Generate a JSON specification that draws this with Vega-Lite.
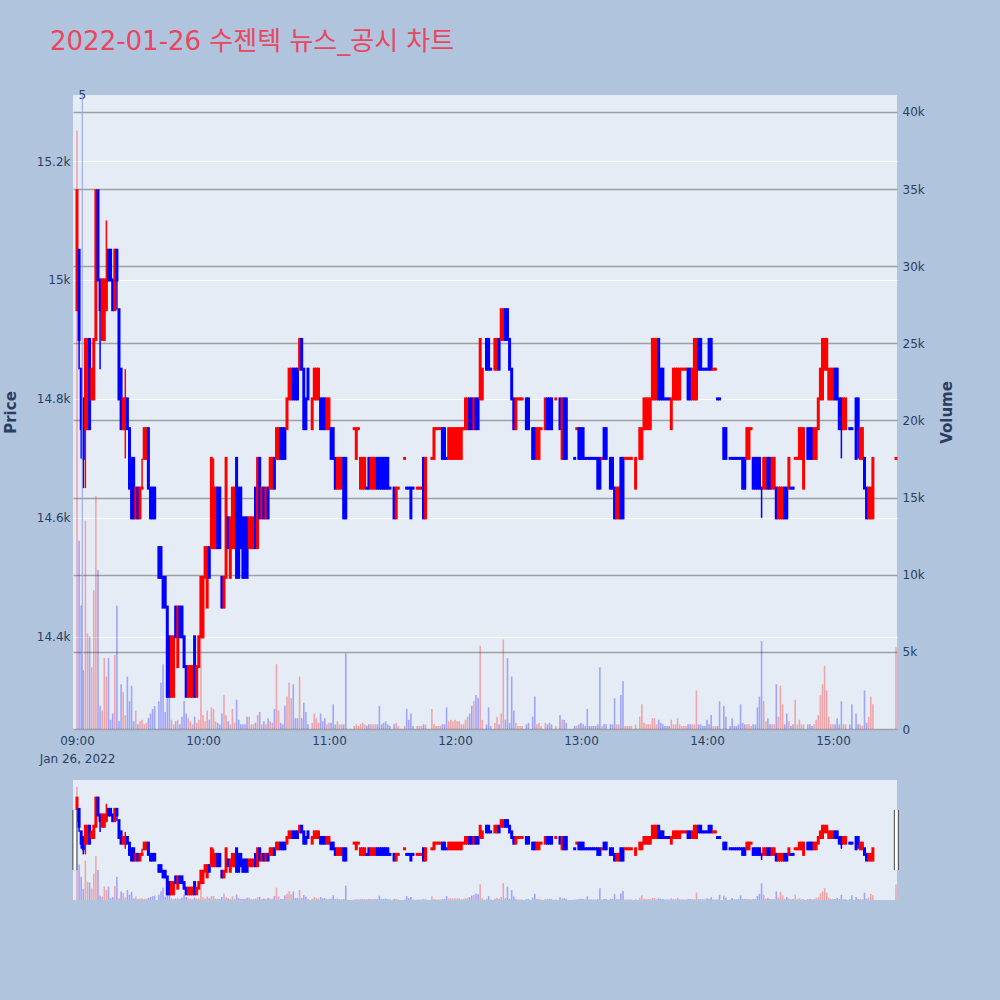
{
"$schema": "https://vega.github.io/schema/vega-lite/v6.json",
"width": 824, "height": 634,
"autosize": "none",
"padding": {"left": 73, "top": 95, "right": 103, "bottom": 271},
"background": "#B0C4DE",
"title": {"text": "2022-01-26 수젠텍 뉴스_공시 차트", "anchor": "start", "frame": "group", "dx": -23, "offset": 13, "baseline": "alphabetic", "fontSize": 26, "font": "DejaVu Sans, Noto Sans CJK KR", "fontWeight": "normal", "color": "#E8475F"},
"config": {"view": {"fill": "#E5ECF6", "stroke": null}, "axis": {"labelFont": "DejaVu Sans", "labelFontSize": 12, "labelColor": "#2a3f5f", "titleFont": "DejaVu Sans", "titleColor": "#2a3f5f", "domain": false, "ticks": false}},
"datasets": {"candles": [
{"t":"2022-01-26T09:00","o":14950,"h":15150,"l":14950,"c":15150,"d":"up","v":38800},
{"t":"2022-01-26T09:01","o":15050,"h":15050,"l":14850,"c":14900,"d":"dn","v":12200},
{"t":"2022-01-26T09:02","o":14850,"h":14850,"l":14700,"c":14750,"d":"dn","v":8000},
{"t":"2022-01-26T09:03","o":14800,"h":14800,"l":14650,"c":14700,"d":"dn","v":3800},
{"t":"2022-01-26T09:04","o":14750,"h":14900,"l":14650,"c":14900,"d":"up","v":13500},
{"t":"2022-01-26T09:05","o":14750,"h":14900,"l":14750,"c":14900,"d":"up","v":6200},
{"t":"2022-01-26T09:06","o":14900,"h":14900,"l":14750,"c":14750,"d":"dn","v":6000},
{"t":"2022-01-26T09:07","o":14800,"h":14850,"l":14800,"c":14850,"d":"up","v":4000},
{"t":"2022-01-26T09:08","o":14800,"h":14900,"l":14800,"c":14900,"d":"up","v":9000},
{"t":"2022-01-26T09:09","o":14900,"h":15150,"l":14900,"c":15150,"d":"up","v":15100},
{"t":"2022-01-26T09:10","o":15150,"h":15150,"l":15000,"c":15000,"d":"dn","v":10300},
{"t":"2022-01-26T09:11","o":15000,"h":15000,"l":14850,"c":14950,"d":"dn","v":1500},
{"t":"2022-01-26T09:12","o":14900,"h":15000,"l":14900,"c":15000,"d":"up","v":1200},
{"t":"2022-01-26T09:13","o":14900,"h":15000,"l":14900,"c":15000,"d":"up","v":4600},
{"t":"2022-01-26T09:14","o":14950,"h":15100,"l":14950,"c":15000,"d":"up","v":3400},
{"t":"2022-01-26T09:15","o":15050,"h":15050,"l":15000,"c":15000,"d":"dn","v":4600},
{"t":"2022-01-26T09:16","o":15050,"h":15050,"l":15000,"c":15000,"d":"dn","v":600},
{"t":"2022-01-26T09:17","o":15000,"h":15000,"l":14950,"c":14950,"d":"dn","v":1000},
{"t":"2022-01-26T09:18","o":14950,"h":15050,"l":14950,"c":15050,"d":"up","v":4800},
{"t":"2022-01-26T09:19","o":15050,"h":15050,"l":14950,"c":15000,"d":"dn","v":8000},
{"t":"2022-01-26T09:20","o":14950,"h":14950,"l":14800,"c":14800,"d":"dn","v":500},
{"t":"2022-01-26T09:21","o":14850,"h":14850,"l":14750,"c":14750,"d":"dn","v":2900},
{"t":"2022-01-26T09:22","o":14750,"h":14800,"l":14750,"c":14800,"d":"up","v":2400},
{"t":"2022-01-26T09:23","o":14750,"h":14850,"l":14700,"c":14800,"d":"up","v":900},
{"t":"2022-01-26T09:24","o":14800,"h":14800,"l":14750,"c":14750,"d":"dn","v":3400},
{"t":"2022-01-26T09:25","o":14750,"h":14750,"l":14650,"c":14650,"d":"dn","v":1800},
{"t":"2022-01-26T09:26","o":14700,"h":14700,"l":14600,"c":14600,"d":"dn","v":2800},
{"t":"2022-01-26T09:27","o":14700,"h":14700,"l":14600,"c":14600,"d":"dn","v":500},
{"t":"2022-01-26T09:28","o":14600,"h":14650,"l":14600,"c":14650,"d":"up","v":1200},
{"t":"2022-01-26T09:29","o":14650,"h":14650,"l":14600,"c":14600,"d":"dn","v":300},
{"t":"2022-01-26T09:30","o":14600,"h":14650,"l":14600,"c":14650,"d":"up","v":500},
{"t":"2022-01-26T09:31","o":14650,"h":14700,"l":14650,"c":14650,"d":"up","v":600},
{"t":"2022-01-26T09:32","o":14700,"h":14750,"l":14700,"c":14750,"d":"up","v":300},
{"t":"2022-01-26T09:33","o":14700,"h":14750,"l":14700,"c":14750,"d":"up","v":400},
{"t":"2022-01-26T09:34","o":14750,"h":14750,"l":14650,"c":14650,"d":"dn","v":700},
{"t":"2022-01-26T09:35","o":14650,"h":14650,"l":14600,"c":14600,"d":"dn","v":1000},
{"t":"2022-01-26T09:36","o":14650,"h":14650,"l":14600,"c":14600,"d":"dn","v":1300},
{"t":"2022-01-26T09:37","o":14650,"h":14650,"l":14600,"c":14600,"d":"dn","v":1500},
{"t":"2022-01-26T09:39","o":14550,"h":14550,"l":14500,"c":14500,"d":"dn","v":1800},
{"t":"2022-01-26T09:40","o":14550,"h":14550,"l":14500,"c":14500,"d":"dn","v":3000},
{"t":"2022-01-26T09:41","o":14500,"h":14500,"l":14450,"c":14450,"d":"dn","v":4200},
{"t":"2022-01-26T09:42","o":14500,"h":14500,"l":14450,"c":14450,"d":"dn","v":1100},
{"t":"2022-01-26T09:43","o":14450,"h":14450,"l":14300,"c":14300,"d":"dn","v":2600},
{"t":"2022-01-26T09:44","o":14400,"h":14400,"l":14300,"c":14300,"d":"dn","v":4000},
{"t":"2022-01-26T09:45","o":14300,"h":14400,"l":14300,"c":14400,"d":"up","v":600},
{"t":"2022-01-26T09:46","o":14300,"h":14400,"l":14300,"c":14400,"d":"up","v":300},
{"t":"2022-01-26T09:47","o":14450,"h":14450,"l":14400,"c":14400,"d":"dn","v":500},
{"t":"2022-01-26T09:48","o":14350,"h":14450,"l":14350,"c":14450,"d":"up","v":600},
{"t":"2022-01-26T09:49","o":14450,"h":14450,"l":14400,"c":14400,"d":"dn","v":300},
{"t":"2022-01-26T09:50","o":14450,"h":14450,"l":14400,"c":14400,"d":"dn","v":800},
{"t":"2022-01-26T09:51","o":14400,"h":14400,"l":14350,"c":14350,"d":"dn","v":1800},
{"t":"2022-01-26T09:52","o":14350,"h":14350,"l":14300,"c":14300,"d":"dn","v":1000},
{"t":"2022-01-26T09:53","o":14300,"h":14350,"l":14300,"c":14350,"d":"up","v":700},
{"t":"2022-01-26T09:54","o":14300,"h":14350,"l":14300,"c":14350,"d":"up","v":500},
{"t":"2022-01-26T09:55","o":14300,"h":14350,"l":14300,"c":14350,"d":"up","v":300},
{"t":"2022-01-26T09:56","o":14400,"h":14400,"l":14300,"c":14300,"d":"dn","v":800},
{"t":"2022-01-26T09:57","o":14300,"h":14350,"l":14300,"c":14350,"d":"up","v":400},
{"t":"2022-01-26T09:58","o":14350,"h":14400,"l":14350,"c":14400,"d":"up","v":600},
{"t":"2022-01-26T09:59","o":14400,"h":14500,"l":14400,"c":14500,"d":"up","v":9700},
{"t":"2022-01-26T10:00","o":14400,"h":14500,"l":14400,"c":14500,"d":"up","v":900},
{"t":"2022-01-26T10:01","o":14500,"h":14550,"l":14500,"c":14550,"d":"up","v":500},
{"t":"2022-01-26T10:02","o":14450,"h":14550,"l":14450,"c":14550,"d":"up","v":1200},
{"t":"2022-01-26T10:03","o":14550,"h":14550,"l":14500,"c":14500,"d":"dn","v":600},
{"t":"2022-01-26T10:04","o":14550,"h":14700,"l":14550,"c":14700,"d":"up","v":1400},
{"t":"2022-01-26T10:05","o":14550,"h":14700,"l":14550,"c":14650,"d":"up","v":1300},
{"t":"2022-01-26T10:06","o":14550,"h":14650,"l":14550,"c":14650,"d":"up","v":500},
{"t":"2022-01-26T10:07","o":14650,"h":14650,"l":14550,"c":14550,"d":"dn","v":400},
{"t":"2022-01-26T10:08","o":14650,"h":14650,"l":14550,"c":14550,"d":"dn","v":300},
{"t":"2022-01-26T10:09","o":14500,"h":14500,"l":14450,"c":14450,"d":"dn","v":1000},
{"t":"2022-01-26T10:10","o":14450,"h":14500,"l":14450,"c":14500,"d":"up","v":2200},
{"t":"2022-01-26T10:11","o":14500,"h":14700,"l":14500,"c":14700,"d":"up","v":900},
{"t":"2022-01-26T10:12","o":14600,"h":14600,"l":14550,"c":14550,"d":"dn","v":500},
{"t":"2022-01-26T10:13","o":14500,"h":14600,"l":14500,"c":14600,"d":"up","v":300},
{"t":"2022-01-26T10:14","o":14550,"h":14650,"l":14550,"c":14650,"d":"up","v":1300},
{"t":"2022-01-26T10:15","o":14550,"h":14650,"l":14550,"c":14650,"d":"up","v":400},
{"t":"2022-01-26T10:16","o":14700,"h":14700,"l":14500,"c":14500,"d":"dn","v":1900},
{"t":"2022-01-26T10:17","o":14650,"h":14650,"l":14500,"c":14500,"d":"dn","v":600},
{"t":"2022-01-26T10:18","o":14650,"h":14650,"l":14550,"c":14550,"d":"dn","v":300},
{"t":"2022-01-26T10:19","o":14600,"h":14600,"l":14500,"c":14500,"d":"dn","v":300},
{"t":"2022-01-26T10:20","o":14600,"h":14600,"l":14500,"c":14500,"d":"dn","v":300},
{"t":"2022-01-26T10:21","o":14600,"h":14600,"l":14500,"c":14500,"d":"dn","v":800},
{"t":"2022-01-26T10:22","o":14550,"h":14600,"l":14550,"c":14600,"d":"up","v":800},
{"t":"2022-01-26T10:23","o":14550,"h":14600,"l":14550,"c":14600,"d":"up","v":300},
{"t":"2022-01-26T10:24","o":14550,"h":14600,"l":14550,"c":14600,"d":"up","v":300},
{"t":"2022-01-26T10:25","o":14650,"h":14650,"l":14550,"c":14550,"d":"dn","v":400},
{"t":"2022-01-26T10:26","o":14550,"h":14700,"l":14550,"c":14700,"d":"up","v":900},
{"t":"2022-01-26T10:27","o":14700,"h":14700,"l":14600,"c":14600,"d":"dn","v":1100},
{"t":"2022-01-26T10:28","o":14600,"h":14650,"l":14600,"c":14650,"d":"up","v":300},
{"t":"2022-01-26T10:29","o":14650,"h":14650,"l":14600,"c":14600,"d":"dn","v":500},
{"t":"2022-01-26T10:30","o":14600,"h":14650,"l":14600,"c":14650,"d":"up","v":300},
{"t":"2022-01-26T10:31","o":14650,"h":14650,"l":14600,"c":14600,"d":"dn","v":700},
{"t":"2022-01-26T10:32","o":14650,"h":14700,"l":14650,"c":14700,"d":"up","v":500},
{"t":"2022-01-26T10:33","o":14650,"h":14700,"l":14650,"c":14700,"d":"up","v":400},
{"t":"2022-01-26T10:34","o":14700,"h":14700,"l":14650,"c":14650,"d":"dn","v":1300},
{"t":"2022-01-26T10:35","o":14700,"h":14750,"l":14700,"c":14750,"d":"up","v":4200},
{"t":"2022-01-26T10:36","o":14700,"h":14750,"l":14700,"c":14750,"d":"up","v":1200},
{"t":"2022-01-26T10:37","o":14750,"h":14750,"l":14700,"c":14700,"d":"dn","v":400},
{"t":"2022-01-26T10:38","o":14750,"h":14750,"l":14700,"c":14700,"d":"dn","v":300},
{"t":"2022-01-26T10:39","o":14750,"h":14750,"l":14700,"c":14700,"d":"dn","v":1500},
{"t":"2022-01-26T10:40","o":14750,"h":14800,"l":14750,"c":14800,"d":"up","v":2100},
{"t":"2022-01-26T10:41","o":14800,"h":14850,"l":14800,"c":14850,"d":"up","v":3000},
{"t":"2022-01-26T10:42","o":14800,"h":14850,"l":14800,"c":14850,"d":"up","v":2000},
{"t":"2022-01-26T10:43","o":14850,"h":14850,"l":14800,"c":14800,"d":"dn","v":2900},
{"t":"2022-01-26T10:44","o":14850,"h":14850,"l":14800,"c":14800,"d":"dn","v":700},
{"t":"2022-01-26T10:45","o":14850,"h":14850,"l":14800,"c":14800,"d":"dn","v":700},
{"t":"2022-01-26T10:46","o":14850,"h":14900,"l":14850,"c":14900,"d":"up","v":3400},
{"t":"2022-01-26T10:47","o":14900,"h":14900,"l":14850,"c":14850,"d":"dn","v":700},
{"t":"2022-01-26T10:48","o":14850,"h":14850,"l":14750,"c":14750,"d":"dn","v":1700},
{"t":"2022-01-26T10:49","o":14800,"h":14800,"l":14750,"c":14750,"d":"dn","v":1100},
{"t":"2022-01-26T10:50","o":14850,"h":14850,"l":14800,"c":14800,"d":"dn","v":300},
{"t":"2022-01-26T10:52","o":14750,"h":14800,"l":14750,"c":14800,"d":"up","v":400},
{"t":"2022-01-26T10:53","o":14800,"h":14850,"l":14800,"c":14850,"d":"up","v":1000},
{"t":"2022-01-26T10:54","o":14800,"h":14850,"l":14800,"c":14850,"d":"up","v":700},
{"t":"2022-01-26T10:55","o":14800,"h":14850,"l":14800,"c":14850,"d":"up","v":400},
{"t":"2022-01-26T10:56","o":14800,"h":14800,"l":14750,"c":14750,"d":"dn","v":1000},
{"t":"2022-01-26T10:57","o":14800,"h":14800,"l":14750,"c":14750,"d":"dn","v":500},
{"t":"2022-01-26T10:58","o":14800,"h":14800,"l":14750,"c":14750,"d":"dn","v":700},
{"t":"2022-01-26T10:59","o":14750,"h":14800,"l":14750,"c":14800,"d":"up","v":300},
{"t":"2022-01-26T11:00","o":14750,"h":14800,"l":14750,"c":14800,"d":"up","v":400},
{"t":"2022-01-26T11:01","o":14750,"h":14750,"l":14700,"c":14700,"d":"dn","v":400},
{"t":"2022-01-26T11:02","o":14750,"h":14750,"l":14700,"c":14700,"d":"dn","v":1600},
{"t":"2022-01-26T11:03","o":14700,"h":14700,"l":14650,"c":14650,"d":"dn","v":300},
{"t":"2022-01-26T11:04","o":14650,"h":14700,"l":14650,"c":14700,"d":"up","v":500},
{"t":"2022-01-26T11:05","o":14650,"h":14700,"l":14650,"c":14700,"d":"up","v":300},
{"t":"2022-01-26T11:06","o":14650,"h":14700,"l":14650,"c":14700,"d":"up","v":300},
{"t":"2022-01-26T11:07","o":14700,"h":14700,"l":14600,"c":14600,"d":"dn","v":300},
{"t":"2022-01-26T11:08","o":14700,"h":14700,"l":14600,"c":14600,"d":"dn","v":4900},
{"t":"2022-01-26T11:12","o":14750,"h":14750,"l":14750,"c":14750,"d":"up","v":200},
{"t":"2022-01-26T11:13","o":14700,"h":14750,"l":14700,"c":14750,"d":"up","v":300},
{"t":"2022-01-26T11:14","o":14750,"h":14750,"l":14750,"c":14750,"d":"up","v":200},
{"t":"2022-01-26T11:15","o":14650,"h":14700,"l":14650,"c":14700,"d":"up","v":300},
{"t":"2022-01-26T11:16","o":14650,"h":14700,"l":14650,"c":14700,"d":"up","v":400},
{"t":"2022-01-26T11:17","o":14650,"h":14700,"l":14650,"c":14700,"d":"up","v":300},
{"t":"2022-01-26T11:18","o":14650,"h":14650,"l":14650,"c":14650,"d":"dn","v":200},
{"t":"2022-01-26T11:19","o":14700,"h":14700,"l":14650,"c":14650,"d":"dn","v":300},
{"t":"2022-01-26T11:20","o":14650,"h":14700,"l":14650,"c":14700,"d":"up","v":300},
{"t":"2022-01-26T11:21","o":14650,"h":14700,"l":14650,"c":14700,"d":"up","v":300},
{"t":"2022-01-26T11:22","o":14650,"h":14700,"l":14650,"c":14700,"d":"up","v":300},
{"t":"2022-01-26T11:23","o":14700,"h":14700,"l":14650,"c":14650,"d":"dn","v":300},
{"t":"2022-01-26T11:24","o":14700,"h":14700,"l":14650,"c":14650,"d":"dn","v":1500},
{"t":"2022-01-26T11:25","o":14700,"h":14700,"l":14650,"c":14650,"d":"dn","v":300},
{"t":"2022-01-26T11:26","o":14700,"h":14700,"l":14650,"c":14650,"d":"dn","v":400},
{"t":"2022-01-26T11:27","o":14700,"h":14700,"l":14650,"c":14650,"d":"dn","v":500},
{"t":"2022-01-26T11:28","o":14700,"h":14700,"l":14650,"c":14650,"d":"dn","v":300},
{"t":"2022-01-26T11:29","o":14650,"h":14650,"l":14650,"c":14650,"d":"dn","v":200},
{"t":"2022-01-26T11:31","o":14650,"h":14650,"l":14600,"c":14600,"d":"dn","v":300},
{"t":"2022-01-26T11:32","o":14600,"h":14650,"l":14600,"c":14650,"d":"up","v":400},
{"t":"2022-01-26T11:33","o":14650,"h":14650,"l":14650,"c":14650,"d":"up","v":200},
{"t":"2022-01-26T11:36","o":14700,"h":14700,"l":14700,"c":14700,"d":"up","v":200},
{"t":"2022-01-26T11:37","o":14650,"h":14650,"l":14650,"c":14650,"d":"dn","v":1300},
{"t":"2022-01-26T11:38","o":14650,"h":14650,"l":14650,"c":14650,"d":"dn","v":600},
{"t":"2022-01-26T11:39","o":14650,"h":14650,"l":14600,"c":14600,"d":"dn","v":1000},
{"t":"2022-01-26T11:40","o":14650,"h":14650,"l":14650,"c":14650,"d":"dn","v":200},
{"t":"2022-01-26T11:42","o":14650,"h":14650,"l":14650,"c":14650,"d":"up","v":200},
{"t":"2022-01-26T11:43","o":14650,"h":14650,"l":14650,"c":14650,"d":"up","v":200},
{"t":"2022-01-26T11:44","o":14650,"h":14650,"l":14650,"c":14650,"d":"up","v":200},
{"t":"2022-01-26T11:45","o":14700,"h":14700,"l":14600,"c":14600,"d":"dn","v":300},
{"t":"2022-01-26T11:46","o":14600,"h":14700,"l":14600,"c":14700,"d":"up","v":300},
{"t":"2022-01-26T11:49","o":14700,"h":14700,"l":14700,"c":14700,"d":"up","v":1300},
{"t":"2022-01-26T11:50","o":14700,"h":14750,"l":14700,"c":14750,"d":"up","v":300},
{"t":"2022-01-26T11:51","o":14750,"h":14750,"l":14750,"c":14750,"d":"up","v":200},
{"t":"2022-01-26T11:52","o":14750,"h":14750,"l":14750,"c":14750,"d":"up","v":200},
{"t":"2022-01-26T11:53","o":14750,"h":14750,"l":14750,"c":14750,"d":"up","v":200},
{"t":"2022-01-26T11:54","o":14750,"h":14750,"l":14700,"c":14700,"d":"dn","v":300},
{"t":"2022-01-26T11:55","o":14750,"h":14750,"l":14700,"c":14700,"d":"dn","v":300},
{"t":"2022-01-26T11:56","o":14700,"h":14700,"l":14700,"c":14700,"d":"dn","v":1400},
{"t":"2022-01-26T11:57","o":14700,"h":14750,"l":14700,"c":14750,"d":"up","v":500},
{"t":"2022-01-26T11:58","o":14700,"h":14750,"l":14700,"c":14750,"d":"up","v":600},
{"t":"2022-01-26T11:59","o":14700,"h":14750,"l":14700,"c":14750,"d":"up","v":500},
{"t":"2022-01-26T12:00","o":14700,"h":14750,"l":14700,"c":14750,"d":"up","v":600},
{"t":"2022-01-26T12:01","o":14700,"h":14750,"l":14700,"c":14750,"d":"up","v":500},
{"t":"2022-01-26T12:02","o":14700,"h":14750,"l":14700,"c":14750,"d":"up","v":500},
{"t":"2022-01-26T12:03","o":14700,"h":14750,"l":14700,"c":14750,"d":"up","v":300},
{"t":"2022-01-26T12:04","o":14750,"h":14750,"l":14750,"c":14750,"d":"up","v":300},
{"t":"2022-01-26T12:05","o":14750,"h":14800,"l":14750,"c":14800,"d":"up","v":600},
{"t":"2022-01-26T12:06","o":14750,"h":14800,"l":14750,"c":14800,"d":"up","v":800},
{"t":"2022-01-26T12:07","o":14800,"h":14800,"l":14750,"c":14750,"d":"dn","v":1000},
{"t":"2022-01-26T12:08","o":14800,"h":14800,"l":14750,"c":14750,"d":"dn","v":1500},
{"t":"2022-01-26T12:09","o":14750,"h":14800,"l":14750,"c":14800,"d":"up","v":1800},
{"t":"2022-01-26T12:10","o":14800,"h":14800,"l":14750,"c":14750,"d":"dn","v":2200},
{"t":"2022-01-26T12:11","o":14800,"h":14800,"l":14750,"c":14750,"d":"dn","v":2000},
{"t":"2022-01-26T12:12","o":14800,"h":14900,"l":14800,"c":14900,"d":"up","v":5400},
{"t":"2022-01-26T12:13","o":14800,"h":14850,"l":14800,"c":14850,"d":"up","v":600},
{"t":"2022-01-26T12:15","o":14900,"h":14900,"l":14850,"c":14850,"d":"dn","v":300},
{"t":"2022-01-26T12:16","o":14900,"h":14900,"l":14850,"c":14850,"d":"dn","v":1400},
{"t":"2022-01-26T12:17","o":14850,"h":14850,"l":14850,"c":14850,"d":"dn","v":200},
{"t":"2022-01-26T12:19","o":14850,"h":14900,"l":14850,"c":14900,"d":"up","v":400},
{"t":"2022-01-26T12:20","o":14850,"h":14900,"l":14850,"c":14900,"d":"up","v":800},
{"t":"2022-01-26T12:21","o":14900,"h":14900,"l":14850,"c":14850,"d":"dn","v":300},
{"t":"2022-01-26T12:22","o":14900,"h":14950,"l":14900,"c":14950,"d":"up","v":1000},
{"t":"2022-01-26T12:23","o":14900,"h":14950,"l":14900,"c":14950,"d":"up","v":5800},
{"t":"2022-01-26T12:24","o":14950,"h":14950,"l":14900,"c":14900,"d":"dn","v":600},
{"t":"2022-01-26T12:25","o":14950,"h":14950,"l":14900,"c":14900,"d":"dn","v":4600},
{"t":"2022-01-26T12:26","o":14900,"h":14900,"l":14850,"c":14850,"d":"dn","v":400},
{"t":"2022-01-26T12:27","o":14850,"h":14850,"l":14800,"c":14800,"d":"dn","v":3400},
{"t":"2022-01-26T12:28","o":14800,"h":14800,"l":14750,"c":14750,"d":"dn","v":1200},
{"t":"2022-01-26T12:29","o":14750,"h":14800,"l":14750,"c":14800,"d":"up","v":400},
{"t":"2022-01-26T12:30","o":14800,"h":14800,"l":14800,"c":14800,"d":"up","v":200},
{"t":"2022-01-26T12:31","o":14800,"h":14800,"l":14800,"c":14800,"d":"up","v":200},
{"t":"2022-01-26T12:32","o":14800,"h":14800,"l":14800,"c":14800,"d":"up","v":200},
{"t":"2022-01-26T12:34","o":14800,"h":14800,"l":14750,"c":14750,"d":"dn","v":300},
{"t":"2022-01-26T12:35","o":14800,"h":14800,"l":14750,"c":14750,"d":"dn","v":400},
{"t":"2022-01-26T12:37","o":14750,"h":14750,"l":14700,"c":14700,"d":"dn","v":800},
{"t":"2022-01-26T12:38","o":14750,"h":14750,"l":14700,"c":14700,"d":"dn","v":2100},
{"t":"2022-01-26T12:39","o":14700,"h":14750,"l":14700,"c":14750,"d":"up","v":300},
{"t":"2022-01-26T12:40","o":14700,"h":14750,"l":14700,"c":14750,"d":"up","v":400},
{"t":"2022-01-26T12:41","o":14750,"h":14750,"l":14750,"c":14750,"d":"up","v":200},
{"t":"2022-01-26T12:43","o":14750,"h":14800,"l":14750,"c":14800,"d":"up","v":400},
{"t":"2022-01-26T12:44","o":14800,"h":14800,"l":14750,"c":14750,"d":"dn","v":300},
{"t":"2022-01-26T12:45","o":14800,"h":14800,"l":14750,"c":14750,"d":"dn","v":400},
{"t":"2022-01-26T12:46","o":14800,"h":14800,"l":14750,"c":14750,"d":"dn","v":300},
{"t":"2022-01-26T12:48","o":14800,"h":14800,"l":14800,"c":14800,"d":"up","v":200},
{"t":"2022-01-26T12:50","o":14800,"h":14800,"l":14750,"c":14750,"d":"dn","v":900},
{"t":"2022-01-26T12:51","o":14700,"h":14800,"l":14700,"c":14800,"d":"up","v":600},
{"t":"2022-01-26T12:52","o":14800,"h":14800,"l":14700,"c":14700,"d":"dn","v":600},
{"t":"2022-01-26T12:53","o":14800,"h":14800,"l":14700,"c":14700,"d":"dn","v":400},
{"t":"2022-01-26T12:57","o":14700,"h":14700,"l":14700,"c":14700,"d":"dn","v":200},
{"t":"2022-01-26T12:58","o":14750,"h":14750,"l":14750,"c":14750,"d":"up","v":200},
{"t":"2022-01-26T12:59","o":14750,"h":14750,"l":14700,"c":14700,"d":"dn","v":300},
{"t":"2022-01-26T13:00","o":14750,"h":14750,"l":14700,"c":14700,"d":"dn","v":400},
{"t":"2022-01-26T13:01","o":14750,"h":14750,"l":14700,"c":14700,"d":"dn","v":300},
{"t":"2022-01-26T13:02","o":14700,"h":14700,"l":14700,"c":14700,"d":"dn","v":200},
{"t":"2022-01-26T13:03","o":14700,"h":14700,"l":14700,"c":14700,"d":"dn","v":1300},
{"t":"2022-01-26T13:04","o":14700,"h":14700,"l":14700,"c":14700,"d":"dn","v":200},
{"t":"2022-01-26T13:05","o":14700,"h":14700,"l":14700,"c":14700,"d":"dn","v":200},
{"t":"2022-01-26T13:06","o":14700,"h":14700,"l":14700,"c":14700,"d":"dn","v":200},
{"t":"2022-01-26T13:07","o":14700,"h":14700,"l":14700,"c":14700,"d":"dn","v":200},
{"t":"2022-01-26T13:08","o":14700,"h":14700,"l":14650,"c":14650,"d":"dn","v":300},
{"t":"2022-01-26T13:09","o":14700,"h":14700,"l":14650,"c":14650,"d":"dn","v":4000},
{"t":"2022-01-26T13:10","o":14700,"h":14700,"l":14700,"c":14700,"d":"up","v":200},
{"t":"2022-01-26T13:11","o":14750,"h":14750,"l":14700,"c":14700,"d":"dn","v":300},
{"t":"2022-01-26T13:12","o":14750,"h":14750,"l":14700,"c":14700,"d":"dn","v":300},
{"t":"2022-01-26T13:14","o":14700,"h":14700,"l":14650,"c":14650,"d":"dn","v":300},
{"t":"2022-01-26T13:15","o":14700,"h":14700,"l":14650,"c":14650,"d":"dn","v":300},
{"t":"2022-01-26T13:16","o":14650,"h":14650,"l":14600,"c":14600,"d":"dn","v":2000},
{"t":"2022-01-26T13:17","o":14600,"h":14650,"l":14600,"c":14650,"d":"up","v":300},
{"t":"2022-01-26T13:18","o":14600,"h":14650,"l":14600,"c":14650,"d":"up","v":300},
{"t":"2022-01-26T13:19","o":14700,"h":14700,"l":14600,"c":14600,"d":"dn","v":2200},
{"t":"2022-01-26T13:20","o":14700,"h":14700,"l":14600,"c":14600,"d":"dn","v":3100},
{"t":"2022-01-26T13:21","o":14700,"h":14700,"l":14700,"c":14700,"d":"up","v":200},
{"t":"2022-01-26T13:22","o":14700,"h":14700,"l":14700,"c":14700,"d":"up","v":200},
{"t":"2022-01-26T13:23","o":14700,"h":14700,"l":14700,"c":14700,"d":"up","v":200},
{"t":"2022-01-26T13:24","o":14700,"h":14700,"l":14700,"c":14700,"d":"up","v":200},
{"t":"2022-01-26T13:26","o":14650,"h":14700,"l":14650,"c":14700,"d":"up","v":300},
{"t":"2022-01-26T13:28","o":14700,"h":14750,"l":14700,"c":14750,"d":"up","v":800},
{"t":"2022-01-26T13:29","o":14700,"h":14750,"l":14700,"c":14750,"d":"up","v":1600},
{"t":"2022-01-26T13:30","o":14750,"h":14800,"l":14750,"c":14800,"d":"up","v":400},
{"t":"2022-01-26T13:31","o":14750,"h":14800,"l":14750,"c":14800,"d":"up","v":300},
{"t":"2022-01-26T13:32","o":14750,"h":14800,"l":14750,"c":14800,"d":"up","v":300},
{"t":"2022-01-26T13:33","o":14750,"h":14800,"l":14750,"c":14800,"d":"up","v":300},
{"t":"2022-01-26T13:34","o":14800,"h":14900,"l":14800,"c":14900,"d":"up","v":700},
{"t":"2022-01-26T13:35","o":14800,"h":14900,"l":14800,"c":14900,"d":"up","v":700},
{"t":"2022-01-26T13:36","o":14800,"h":14900,"l":14800,"c":14900,"d":"up","v":300},
{"t":"2022-01-26T13:37","o":14900,"h":14900,"l":14800,"c":14800,"d":"dn","v":600},
{"t":"2022-01-26T13:38","o":14850,"h":14850,"l":14800,"c":14800,"d":"dn","v":400},
{"t":"2022-01-26T13:39","o":14850,"h":14850,"l":14800,"c":14800,"d":"dn","v":300},
{"t":"2022-01-26T13:40","o":14800,"h":14800,"l":14800,"c":14800,"d":"dn","v":200},
{"t":"2022-01-26T13:41","o":14800,"h":14800,"l":14800,"c":14800,"d":"dn","v":200},
{"t":"2022-01-26T13:42","o":14800,"h":14800,"l":14800,"c":14800,"d":"dn","v":200},
{"t":"2022-01-26T13:43","o":14750,"h":14800,"l":14750,"c":14800,"d":"up","v":600},
{"t":"2022-01-26T13:44","o":14800,"h":14850,"l":14800,"c":14850,"d":"up","v":300},
{"t":"2022-01-26T13:45","o":14800,"h":14850,"l":14800,"c":14850,"d":"up","v":300},
{"t":"2022-01-26T13:46","o":14800,"h":14850,"l":14800,"c":14850,"d":"up","v":700},
{"t":"2022-01-26T13:47","o":14800,"h":14850,"l":14800,"c":14850,"d":"up","v":300},
{"t":"2022-01-26T13:48","o":14850,"h":14850,"l":14850,"c":14850,"d":"up","v":200},
{"t":"2022-01-26T13:49","o":14850,"h":14850,"l":14850,"c":14850,"d":"up","v":200},
{"t":"2022-01-26T13:50","o":14850,"h":14850,"l":14850,"c":14850,"d":"up","v":200},
{"t":"2022-01-26T13:51","o":14850,"h":14850,"l":14800,"c":14800,"d":"dn","v":300},
{"t":"2022-01-26T13:52","o":14850,"h":14850,"l":14800,"c":14800,"d":"dn","v":300},
{"t":"2022-01-26T13:53","o":14800,"h":14850,"l":14800,"c":14850,"d":"up","v":300},
{"t":"2022-01-26T13:54","o":14800,"h":14900,"l":14800,"c":14900,"d":"up","v":300},
{"t":"2022-01-26T13:55","o":14800,"h":14900,"l":14800,"c":14900,"d":"up","v":2500},
{"t":"2022-01-26T13:56","o":14900,"h":14900,"l":14850,"c":14850,"d":"dn","v":300},
{"t":"2022-01-26T13:57","o":14900,"h":14900,"l":14850,"c":14850,"d":"dn","v":300},
{"t":"2022-01-26T13:58","o":14850,"h":14850,"l":14850,"c":14850,"d":"dn","v":200},
{"t":"2022-01-26T13:59","o":14850,"h":14850,"l":14850,"c":14850,"d":"dn","v":200},
{"t":"2022-01-26T14:00","o":14850,"h":14850,"l":14850,"c":14850,"d":"dn","v":600},
{"t":"2022-01-26T14:01","o":14900,"h":14900,"l":14850,"c":14850,"d":"dn","v":300},
{"t":"2022-01-26T14:02","o":14900,"h":14900,"l":14850,"c":14850,"d":"dn","v":900},
{"t":"2022-01-26T14:03","o":14850,"h":14850,"l":14850,"c":14850,"d":"up","v":200},
{"t":"2022-01-26T14:04","o":14850,"h":14850,"l":14850,"c":14850,"d":"up","v":200},
{"t":"2022-01-26T14:05","o":14800,"h":14800,"l":14800,"c":14800,"d":"dn","v":200},
{"t":"2022-01-26T14:06","o":14800,"h":14800,"l":14800,"c":14800,"d":"dn","v":1800},
{"t":"2022-01-26T14:08","o":14750,"h":14750,"l":14700,"c":14700,"d":"dn","v":1500},
{"t":"2022-01-26T14:09","o":14750,"h":14750,"l":14700,"c":14700,"d":"dn","v":800},
{"t":"2022-01-26T14:11","o":14700,"h":14700,"l":14700,"c":14700,"d":"dn","v":200},
{"t":"2022-01-26T14:12","o":14700,"h":14700,"l":14700,"c":14700,"d":"dn","v":700},
{"t":"2022-01-26T14:13","o":14700,"h":14700,"l":14700,"c":14700,"d":"dn","v":200},
{"t":"2022-01-26T14:14","o":14700,"h":14700,"l":14700,"c":14700,"d":"dn","v":200},
{"t":"2022-01-26T14:15","o":14700,"h":14700,"l":14700,"c":14700,"d":"dn","v":300},
{"t":"2022-01-26T14:16","o":14700,"h":14700,"l":14700,"c":14700,"d":"dn","v":1600},
{"t":"2022-01-26T14:17","o":14700,"h":14700,"l":14650,"c":14650,"d":"dn","v":400},
{"t":"2022-01-26T14:18","o":14700,"h":14700,"l":14650,"c":14650,"d":"dn","v":300},
{"t":"2022-01-26T14:19","o":14700,"h":14750,"l":14700,"c":14750,"d":"up","v":300},
{"t":"2022-01-26T14:20","o":14700,"h":14750,"l":14700,"c":14750,"d":"up","v":300},
{"t":"2022-01-26T14:21","o":14750,"h":14750,"l":14750,"c":14750,"d":"up","v":200},
{"t":"2022-01-26T14:22","o":14700,"h":14700,"l":14650,"c":14650,"d":"dn","v":300},
{"t":"2022-01-26T14:23","o":14700,"h":14700,"l":14650,"c":14650,"d":"dn","v":300},
{"t":"2022-01-26T14:24","o":14700,"h":14700,"l":14650,"c":14650,"d":"dn","v":1400},
{"t":"2022-01-26T14:25","o":14700,"h":14700,"l":14650,"c":14650,"d":"dn","v":2100},
{"t":"2022-01-26T14:26","o":14650,"h":14650,"l":14600,"c":14650,"d":"dn","v":5700},
{"t":"2022-01-26T14:27","o":14650,"h":14700,"l":14650,"c":14700,"d":"up","v":1800},
{"t":"2022-01-26T14:28","o":14650,"h":14700,"l":14650,"c":14700,"d":"up","v":500},
{"t":"2022-01-26T14:29","o":14700,"h":14700,"l":14650,"c":14650,"d":"dn","v":700},
{"t":"2022-01-26T14:30","o":14700,"h":14700,"l":14650,"c":14650,"d":"dn","v":300},
{"t":"2022-01-26T14:31","o":14650,"h":14700,"l":14650,"c":14700,"d":"up","v":300},
{"t":"2022-01-26T14:32","o":14650,"h":14700,"l":14650,"c":14700,"d":"up","v":300},
{"t":"2022-01-26T14:33","o":14650,"h":14650,"l":14600,"c":14600,"d":"dn","v":2900},
{"t":"2022-01-26T14:34","o":14600,"h":14650,"l":14600,"c":14650,"d":"up","v":800},
{"t":"2022-01-26T14:35","o":14600,"h":14650,"l":14600,"c":14650,"d":"up","v":2800},
{"t":"2022-01-26T14:36","o":14600,"h":14650,"l":14600,"c":14650,"d":"up","v":1600},
{"t":"2022-01-26T14:37","o":14650,"h":14650,"l":14600,"c":14600,"d":"dn","v":300},
{"t":"2022-01-26T14:38","o":14650,"h":14650,"l":14600,"c":14600,"d":"dn","v":1000},
{"t":"2022-01-26T14:39","o":14650,"h":14700,"l":14650,"c":14700,"d":"up","v":500},
{"t":"2022-01-26T14:40","o":14650,"h":14650,"l":14650,"c":14650,"d":"dn","v":200},
{"t":"2022-01-26T14:41","o":14650,"h":14650,"l":14650,"c":14650,"d":"dn","v":300},
{"t":"2022-01-26T14:42","o":14700,"h":14700,"l":14700,"c":14700,"d":"up","v":1900},
{"t":"2022-01-26T14:43","o":14700,"h":14700,"l":14700,"c":14700,"d":"up","v":300},
{"t":"2022-01-26T14:44","o":14700,"h":14750,"l":14700,"c":14750,"d":"up","v":600},
{"t":"2022-01-26T14:45","o":14700,"h":14750,"l":14700,"c":14750,"d":"up","v":300},
{"t":"2022-01-26T14:46","o":14650,"h":14750,"l":14650,"c":14750,"d":"up","v":300},
{"t":"2022-01-26T14:48","o":14750,"h":14750,"l":14700,"c":14700,"d":"dn","v":300},
{"t":"2022-01-26T14:49","o":14750,"h":14750,"l":14700,"c":14700,"d":"dn","v":300},
{"t":"2022-01-26T14:50","o":14750,"h":14750,"l":14700,"c":14700,"d":"dn","v":200},
{"t":"2022-01-26T14:51","o":14700,"h":14750,"l":14700,"c":14750,"d":"up","v":300},
{"t":"2022-01-26T14:52","o":14700,"h":14750,"l":14700,"c":14750,"d":"up","v":600},
{"t":"2022-01-26T14:53","o":14750,"h":14800,"l":14750,"c":14800,"d":"up","v":900},
{"t":"2022-01-26T14:54","o":14800,"h":14850,"l":14800,"c":14850,"d":"up","v":2200},
{"t":"2022-01-26T14:55","o":14800,"h":14900,"l":14800,"c":14900,"d":"up","v":2900},
{"t":"2022-01-26T14:56","o":14850,"h":14900,"l":14850,"c":14900,"d":"up","v":4100},
{"t":"2022-01-26T14:57","o":14850,"h":14900,"l":14850,"c":14900,"d":"up","v":2500},
{"t":"2022-01-26T14:58","o":14800,"h":14850,"l":14800,"c":14850,"d":"up","v":800},
{"t":"2022-01-26T14:59","o":14800,"h":14850,"l":14800,"c":14850,"d":"up","v":300},
{"t":"2022-01-26T15:00","o":14800,"h":14850,"l":14800,"c":14850,"d":"up","v":300},
{"t":"2022-01-26T15:01","o":14850,"h":14850,"l":14800,"c":14800,"d":"dn","v":300},
{"t":"2022-01-26T15:02","o":14850,"h":14850,"l":14800,"c":14800,"d":"dn","v":700},
{"t":"2022-01-26T15:03","o":14800,"h":14800,"l":14750,"c":14750,"d":"dn","v":300},
{"t":"2022-01-26T15:04","o":14800,"h":14800,"l":14700,"c":14750,"d":"dn","v":1800},
{"t":"2022-01-26T15:05","o":14750,"h":14800,"l":14750,"c":14800,"d":"up","v":300},
{"t":"2022-01-26T15:06","o":14750,"h":14800,"l":14750,"c":14800,"d":"up","v":300},
{"t":"2022-01-26T15:08","o":14750,"h":14750,"l":14750,"c":14750,"d":"dn","v":300},
{"t":"2022-01-26T15:09","o":14750,"h":14750,"l":14750,"c":14750,"d":"dn","v":1600},
{"t":"2022-01-26T15:11","o":14800,"h":14800,"l":14700,"c":14700,"d":"dn","v":1000},
{"t":"2022-01-26T15:12","o":14800,"h":14800,"l":14700,"c":14750,"d":"dn","v":300},
{"t":"2022-01-26T15:13","o":14700,"h":14750,"l":14700,"c":14750,"d":"up","v":300},
{"t":"2022-01-26T15:14","o":14700,"h":14750,"l":14700,"c":14750,"d":"up","v":200},
{"t":"2022-01-26T15:15","o":14700,"h":14700,"l":14650,"c":14650,"d":"dn","v":2500},
{"t":"2022-01-26T15:16","o":14650,"h":14650,"l":14600,"c":14600,"d":"dn","v":400},
{"t":"2022-01-26T15:17","o":14600,"h":14650,"l":14600,"c":14650,"d":"up","v":800},
{"t":"2022-01-26T15:18","o":14600,"h":14650,"l":14600,"c":14650,"d":"up","v":2100},
{"t":"2022-01-26T15:19","o":14600,"h":14700,"l":14600,"c":14700,"d":"up","v":1600},
{"t":"2022-01-26T15:30","o":14700,"h":14700,"l":14700,"c":14700,"d":"up","v":5300}
],
"news": [{"t":"2022-01-26T09:02:30","label":"5"}],
"span": [{"t":"2022-01-26T08:58:06","t2":"2022-01-26T15:30:29","lo":14245,"hi":15311}],
"handles": [{"t":"2022-01-26T08:59:00","lo":14511,"hi":15045},{"t":"2022-01-26T15:30:10","lo":14511,"hi":15045}]
},
"layer": [
 {"data": {"name": "span"},
  "mark": {"type": "rect", "color": "#E5ECF6"},
  "encoding": {
   "x": {"field": "t", "type": "temporal", "title": "Jan 26, 2022",
     "scale": {"padding": 0, "domain": [{"year":2022,"month":1,"date":26,"hours":8,"minutes":58,"seconds":6},{"year":2022,"month":1,"date":26,"hours":15,"minutes":30,"seconds":29}]},
     "axis": {"grid": false, "values": [{"year":2022,"month":1,"date":26,"hours":9},{"year":2022,"month":1,"date":26,"hours":10},{"year":2022,"month":1,"date":26,"hours":11},{"year":2022,"month":1,"date":26,"hours":12},{"year":2022,"month":1,"date":26,"hours":13},{"year":2022,"month":1,"date":26,"hours":14},{"year":2022,"month":1,"date":26,"hours":15}], "format": "%H:%M", "labelPadding": 6, "labelFlush": false, "labelOverlap": false, "titleFontWeight": "normal", "titleFontSize": 12, "titleX": 4, "titleY": 29, "titleAlign": "center", "titleBaseline": "middle"}},
   "x2": {"field": "t2"},
   "y": {"field": "lo", "type": "quantitative", "scale": {"domain": [14245, 15311], "range": [805, 685], "nice": false, "zero": false}, "axis": null},
   "y2": {"field": "hi"}}},
 {"data": {"name": "candles"},
  "mark": {"type": "bar", "size": 1.6, "opacity": 0.3},
  "encoding": {
   "x": {"field": "t", "type": "temporal"},
   "y": {"field": "v", "type": "quantitative", "scale": {"domain": [0, 41100], "nice": false}, "axis": {"orient": "right", "grid": true, "gridOpacity": 1, "values": [0,5000,10000,15000,20000,25000,30000,35000,40000], "labelExpr": "format(datum.value, '~s')", "gridColor": "#a0a0a0", "gridWidth": 1.5, "labelPadding": 5, "title": "Volume", "titleAngle": -90, "titleFontSize": 15, "titleFontWeight": "bold", "titleX": 49, "titleY": 317, "titleAlign": "center", "titleBaseline": "middle"}},
   "color": {"field": "d", "type": "nominal", "scale": {"domain": ["up","dn"], "range": ["#ff0000","#0000ff"]}, "legend": null}}},
 {"data": {"name": "candles"},
  "mark": {"type": "bar", "size": 1.6, "opacity": 0.3},
  "encoding": {
   "x": {"field": "t", "type": "temporal"},
   "y": {"field": "v", "type": "quantitative", "scale": {"domain": [0, 41100], "range": [805, 685], "nice": false}, "axis": null},
   "color": {"field": "d", "type": "nominal", "legend": null}}},
 {"layer": [
   {"data": {"name": "candles"},
    "mark": {"type": "rule", "strokeWidth": 1.5},
    "encoding": {
     "x": {"field": "t", "type": "temporal"},
     "y": {"field": "l", "type": "quantitative", "scale": {"domain": [14245, 15311], "nice": false, "zero": false}, "axis": {"orient": "left", "grid": true, "gridOpacity": 1, "values": [14400,14600,14800,15000,15200], "format": "~s", "gridColor": "#ffffff", "gridWidth": 1, "labelPadding": 3, "title": "Price", "titleAngle": -90, "titleFontSize": 15, "titleFontWeight": "bold", "titleX": -63, "titleY": 317, "titleAlign": "center", "titleBaseline": "middle"}},
     "y2": {"field": "h"},
     "color": {"field": "d", "type": "nominal", "legend": null}}},
   {"data": {"name": "candles"},
    "mark": {"type": "rule", "strokeWidth": 3, "strokeCap": "square"},
    "encoding": {
     "x": {"field": "t", "type": "temporal"},
     "y": {"field": "o", "type": "quantitative"},
     "y2": {"field": "c"},
     "color": {"field": "d", "type": "nominal", "legend": null}}},
   {"data": {"name": "news"},
    "mark": {"type": "text", "color": "#2a3f5f", "font": "DejaVu Sans", "fontSize": 12, "baseline": "middle", "align": "center"},
    "encoding": {"x": {"field": "t", "type": "temporal"}, "y": {"datum": 15311, "type": "quantitative"}, "text": {"field": "label"}}}
 ]},
 {"layer": [
   {"data": {"name": "candles"},
    "mark": {"type": "rule", "strokeWidth": 1.5},
    "encoding": {
     "x": {"field": "t", "type": "temporal"},
     "y": {"field": "l", "type": "quantitative", "scale": {"domain": [14245, 15311], "range": [805, 685], "nice": false, "zero": false}, "axis": null},
     "y2": {"field": "h"},
     "color": {"field": "d", "type": "nominal", "legend": null}}},
   {"data": {"name": "candles"},
    "mark": {"type": "rule", "strokeWidth": 3, "strokeCap": "square"},
    "encoding": {
     "x": {"field": "t", "type": "temporal"},
     "y": {"field": "o", "type": "quantitative"},
     "y2": {"field": "c"},
     "color": {"field": "d", "type": "nominal", "legend": null}}}
 ]},
 {"data": {"name": "handles"},
  "layer": [
   {"mark": {"type": "rule", "color": "#444444", "strokeWidth": 5},
    "encoding": {"x": {"field": "t", "type": "temporal"}, "y": {"field": "lo", "type": "quantitative", "scale": {"domain": [14245, 15311], "range": [805, 685], "nice": false, "zero": false}, "axis": null}, "y2": {"field": "hi"}}},
   {"mark": {"type": "rule", "color": "#ffffff", "strokeWidth": 3},
    "encoding": {"x": {"field": "t", "type": "temporal"}, "y": {"field": "lo", "type": "quantitative"}, "y2": {"field": "hi"}}}
 ]},
 {"data": {"name": "news"},
  "mark": {"type": "rule", "color": "#8ea2ee", "strokeWidth": 1},
  "encoding": {"x": {"field": "t", "type": "temporal"}}}
],
"resolve": {"scale": {"y": "independent"}}
}
